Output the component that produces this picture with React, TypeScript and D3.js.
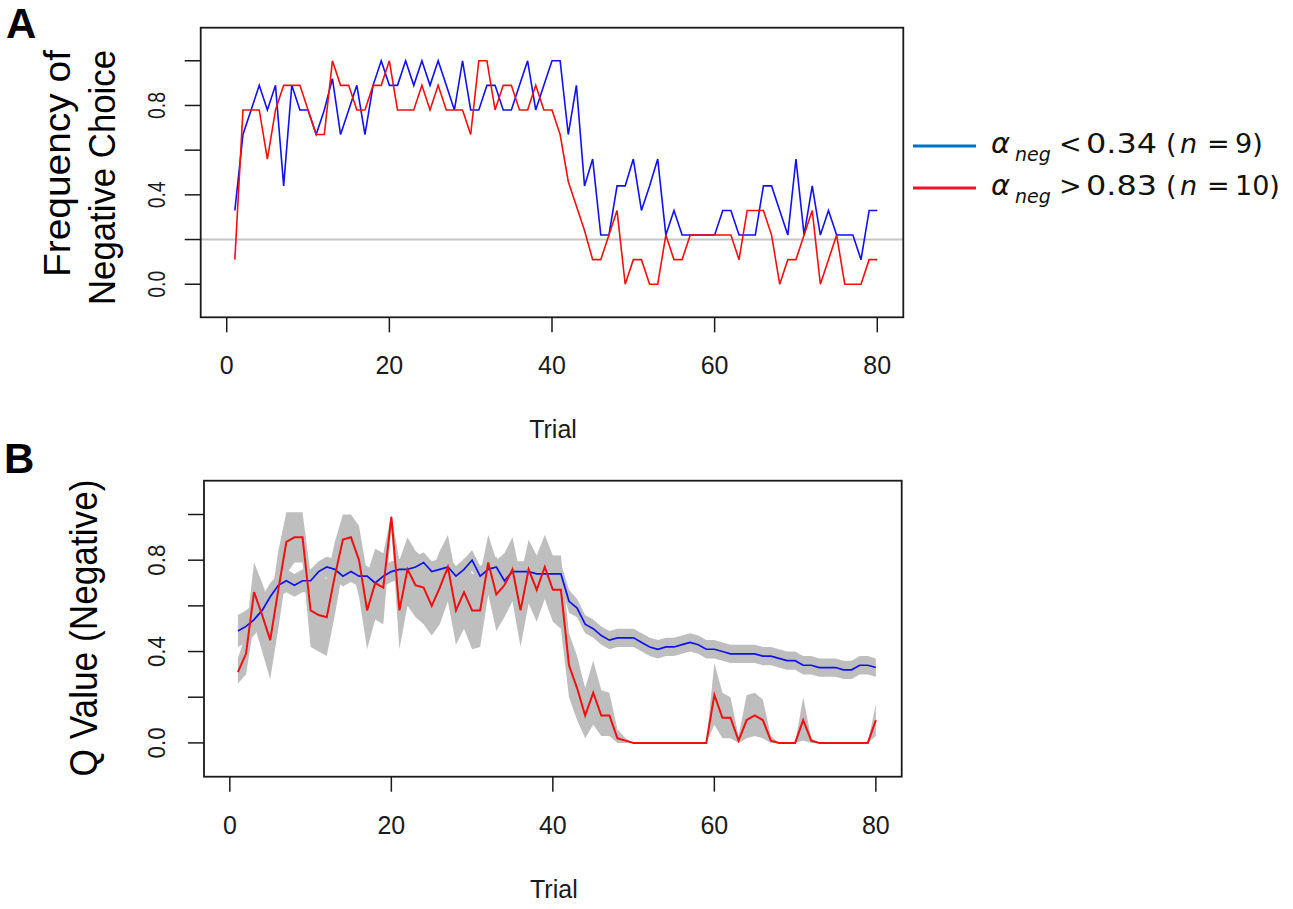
import * as d3 from 'd3';

// Panel A: frequency of negative choice per trial (1..80)
const blueFreq = [
  0.33, 0.67, 0.78, 0.89, 0.78, 0.89, 0.44, 0.89, 0.78, 0.78,
  0.67, 0.78, 0.92, 0.67, 0.78, 0.89, 0.67, 0.89, 1.0, 0.89,
  0.89, 1.0, 0.89, 1.0, 0.89, 1.0, 0.89, 0.78, 1.0, 0.78,
  0.78, 0.89, 0.89, 0.78, 0.78, 0.89, 1.0, 0.78, 0.89, 1.0,
  1.0, 0.67, 0.89, 0.44, 0.56, 0.22, 0.22, 0.44, 0.44, 0.56,
  0.33, 0.44, 0.56, 0.22, 0.33, 0.22, 0.22, 0.22, 0.22, 0.22,
  0.33, 0.33, 0.22, 0.22, 0.22, 0.44, 0.44, 0.33, 0.22, 0.56,
  0.22, 0.44, 0.22, 0.33, 0.22, 0.22, 0.22, 0.11, 0.33, 0.33
];
const redFreq = [
  0.11, 0.78, 0.78, 0.78, 0.56, 0.78, 0.89, 0.89, 0.89, 0.78,
  0.67, 0.67, 1.0, 0.89, 0.89, 0.78, 0.78, 0.89, 0.89, 1.0,
  0.78, 0.78, 0.78, 0.89, 0.78, 0.89, 0.78, 0.78, 0.78, 0.67,
  1.0, 1.0, 0.78, 0.89, 0.89, 0.78, 0.78, 0.89, 0.78, 0.78,
  0.67, 0.46, 0.35, 0.24, 0.11, 0.11, 0.22, 0.33, 0.0, 0.11,
  0.11, 0.0, 0.0, 0.22, 0.11, 0.11, 0.22, 0.22, 0.22, 0.22,
  0.22, 0.22, 0.11, 0.33, 0.33, 0.33, 0.22, 0.0, 0.11, 0.11,
  0.22, 0.33, 0.0, 0.11, 0.22, 0.0, 0.0, 0.0, 0.11, 0.11
];

// Panel B: Q value (negative), mean and grey band
const blueQ = [
  0.49, 0.51, 0.54, 0.58, 0.64, 0.69, 0.71, 0.69, 0.71, 0.71,
  0.75, 0.77, 0.76, 0.73, 0.75, 0.73, 0.73, 0.70, 0.73, 0.75,
  0.76, 0.76, 0.77, 0.79, 0.75, 0.76, 0.77, 0.73, 0.76, 0.80,
  0.73, 0.76, 0.77, 0.71, 0.75, 0.75, 0.75, 0.74, 0.74, 0.74,
  0.74, 0.62, 0.59, 0.52, 0.50, 0.47, 0.45, 0.46, 0.46, 0.46,
  0.44, 0.42, 0.41, 0.42, 0.42, 0.43, 0.44, 0.43, 0.41, 0.41,
  0.40, 0.39, 0.39, 0.39, 0.39, 0.38, 0.38, 0.37, 0.36, 0.36,
  0.34, 0.34, 0.33, 0.33, 0.33, 0.32, 0.32, 0.34, 0.34, 0.33
];
const blueSe = [
  0.07, 0.07, 0.07, 0.06, 0.06, 0.05, 0.05, 0.05, 0.05, 0.05,
  0.045, 0.045, 0.045, 0.045, 0.045, 0.045, 0.045, 0.045, 0.045, 0.045,
  0.045, 0.045, 0.045, 0.045, 0.045, 0.045, 0.045, 0.045, 0.045, 0.045,
  0.045, 0.045, 0.045, 0.045, 0.045, 0.045, 0.045, 0.045, 0.045, 0.045,
  0.045, 0.05, 0.04, 0.04, 0.04, 0.04, 0.04, 0.04, 0.04, 0.04,
  0.04, 0.04, 0.04, 0.04, 0.04, 0.04, 0.04, 0.04, 0.04, 0.04,
  0.04, 0.04, 0.04, 0.04, 0.04, 0.04, 0.04, 0.04, 0.04, 0.04,
  0.04, 0.04, 0.04, 0.04, 0.04, 0.04, 0.04, 0.04, 0.04, 0.04
];
const redQ = [
  0.31, 0.39, 0.66, 0.56, 0.45, 0.67, 0.88, 0.90, 0.90, 0.58,
  0.56, 0.55, 0.73, 0.89, 0.90, 0.80, 0.58, 0.70, 0.68, 0.99,
  0.58, 0.76, 0.69, 0.68, 0.60, 0.68, 0.77, 0.58, 0.66, 0.58,
  0.58, 0.79, 0.65, 0.69, 0.76, 0.58, 0.76, 0.67, 0.77, 0.67,
  0.67, 0.34, 0.24, 0.12, 0.22, 0.12, 0.12, 0.02, 0.01, 0.0,
  0.0, 0.0, 0.0, 0.0, 0.0, 0.0, 0.0, 0.0, 0.0, 0.21,
  0.11, 0.11, 0.01, 0.10, 0.12, 0.10, 0.01, 0.0, 0.0, 0.0,
  0.10, 0.01, 0.0, 0.0, 0.0, 0.0, 0.0, 0.0, 0.0, 0.10
];
const redLo = [
  0.26, 0.30, 0.52, 0.40, 0.28, 0.50, 0.74, 0.79, 0.79, 0.42,
  0.40, 0.38, 0.56, 0.76, 0.78, 0.64, 0.41, 0.54, 0.52, 0.94,
  0.41, 0.60, 0.55, 0.52, 0.47, 0.52, 0.62, 0.43, 0.50, 0.41,
  0.42, 0.65, 0.49, 0.55, 0.62, 0.42, 0.61, 0.53, 0.63, 0.53,
  0.50, 0.20, 0.10, 0.02, 0.08, 0.03, 0.03, 0.0, 0.0, 0.0,
  0.0, 0.0, 0.0, 0.0, 0.0, 0.0, 0.0, 0.0, 0.0, 0.08,
  0.02, 0.02, 0.0, 0.02, 0.03, 0.02, 0.0, 0.0, 0.0, 0.0,
  0.01, 0.0, 0.0, 0.0, 0.0, 0.0, 0.0, 0.0, 0.0, 0.03
];
const redHi = [
  0.37, 0.48, 0.79, 0.70, 0.60, 0.84, 1.01, 1.01, 1.01, 0.74,
  0.72, 0.72, 0.88, 1.0, 1.0, 0.95, 0.74, 0.85, 0.83, 1.0,
  0.80, 0.90, 0.84, 0.81, 0.75, 0.84, 0.91, 0.73, 0.81, 0.74,
  0.74, 0.91, 0.80, 0.83, 0.90, 0.73, 0.89, 0.82, 0.91, 0.82,
  0.82, 0.48, 0.38, 0.24, 0.36, 0.23, 0.22, 0.06, 0.02, 0.0,
  0.0, 0.0, 0.0, 0.0, 0.0, 0.0, 0.0, 0.0, 0.0, 0.35,
  0.22, 0.20, 0.03, 0.21, 0.22, 0.19, 0.03, 0.0, 0.0, 0.0,
  0.20, 0.02, 0.0, 0.0, 0.0, 0.0, 0.0, 0.0, 0.0, 0.17
];

const xTicks = [0, 20, 40, 60, 80];
const yTicks = [0, 0.2, 0.4, 0.6, 0.8, 1.0];
const yTickLabels = ['0.0', '', '0.4', '', '0.8', ''];
const chanceLevel = 0.2;

const legendItems = [
  { sign: '<', threshold: '0.34', n: '9)', color: '#0070c0' },
  { sign: '>', threshold: '0.83', n: '10)', color: '#f01428' }
];

const BLUE = '#1010f0';
const RED = '#f01010';
const GREY = '#bebebe';
const INK = '#1a1a1a';
const FONT = "'Liberation Sans', Arial, sans-serif";

const trials = blueFreq.map((_, i) => i + 1);

interface Box { left: number; right: number; top: number; bottom: number; }

function Axes({ box, x, y, labelX, labelLen }: {
  box: Box;
  x: d3.ScaleLinear<number, number>;
  y: d3.ScaleLinear<number, number>;
  labelX: number;
  labelLen: number;
}) {
  return (
    <g>
      <rect x={box.left} y={box.top} width={box.right - box.left} height={box.bottom - box.top}
        fill="none" stroke={INK} strokeWidth={1.8} />
      {xTicks.map(t => (
        <g key={'x' + t}>
          <line x1={x(t)} x2={x(t)} y1={box.bottom} y2={box.bottom + 15} stroke={INK} strokeWidth={1.5} />
          <text x={x(t)} y={box.bottom + 57} textAnchor="middle" fontSize={25} fill={INK}>{t}</text>
        </g>
      ))}
      <text x={(box.left + box.right) / 2 + 1} y={box.bottom + 121} textAnchor="middle" fontSize={25} fill={INK}>Trial</text>
      {yTicks.map((t, i) => (
        <g key={'y' + t}>
          <line x1={box.left - 16} x2={box.left} y1={y(t)} y2={y(t)} stroke={INK} strokeWidth={1.5} />
          {yTickLabels[i] && (
            <text transform={`translate(${labelX},${y(t)}) rotate(-90)`} textAnchor="middle" fontSize={24}
              fill={INK} textLength={labelLen} lengthAdjust="spacingAndGlyphs">{yTickLabels[i]}</text>
          )}
        </g>
      ))}
    </g>
  );
}

export default function App() {
  const boxA: Box = { left: 200.7, right: 903.3, top: 27.7, bottom: 317.3 };
  const boxB: Box = { left: 204, right: 901.7, top: 480.7, bottom: 776.7 };
  const xDomain: [number, number] = [-3.2, 83.2];
  const yDomain: [number, number] = [-0.148, 1.148];

  const xA = d3.scaleLinear().domain(xDomain).range([boxA.left, boxA.right]);
  const yA = d3.scaleLinear().domain(yDomain).range([boxA.bottom, boxA.top]);
  const xB = d3.scaleLinear().domain(xDomain).range([boxB.left, boxB.right]);
  const yB = d3.scaleLinear().domain(yDomain).range([boxB.bottom, boxB.top]);

  const lineA = (vals: number[]) =>
    d3.line<number>().x((_, i) => xA(trials[i])).y(v => yA(v))(vals) || '';
  const lineB = (vals: number[]) =>
    d3.line<number>().x((_, i) => xB(trials[i])).y(v => yB(v))(vals) || '';
  const band = (lo: number[], hi: number[]) =>
    d3.area<number>().x(t => xB(t)).y0((_, i) => yB(lo[i])).y1((_, i) => yB(hi[i]))(trials) || '';

  const blueLo = blueQ.map((v, i) => v - blueSe[i]);
  const blueHi = blueQ.map((v, i) => v + blueSe[i]);

  return (
    <div style={{ position: 'absolute', left: 0, top: 0 }}>
      <svg width={1293} height={909} fontFamily={FONT} style={{ display: 'block', background: '#fff' }}>
        {/* Panel A */}
        <text x={6} y={38} fontSize={42} fontWeight="bold" fill="#000">A</text>
        <line x1={boxA.left} x2={boxA.right} y1={yA(chanceLevel)} y2={yA(chanceLevel)} stroke="#c4c4c4" strokeWidth={2} />
        <path d={lineA(blueFreq)} fill="none" stroke={BLUE} strokeWidth={1.6} />
        <path d={lineA(redFreq)} fill="none" stroke={RED} strokeWidth={1.6} />
        <Axes box={boxA} x={xA} y={yA} labelX={165} labelLen={27} />
        <text transform="translate(70,50) rotate(-90)" textAnchor="end" fontSize={36} fill="#000"
          textLength={227} lengthAdjust="spacingAndGlyphs">Frequency of</text>
        <text transform="translate(115,50) rotate(-90)" textAnchor="end" fontSize={36} fill="#000"
          textLength={255} lengthAdjust="spacingAndGlyphs">Negative Choice</text>

        {/* Legend */}
        {legendItems.map((item, i) => {
          const base = 153 + i * 42;
          return (
            <g key={item.n} fontFamily="'DejaVu Sans', sans-serif" fill="#111">
              <line x1={913} x2={976} y1={base - 7} y2={base - 7} stroke={item.color} strokeWidth={3} />
              <text y={base} fontSize={27}>
                <tspan x={991} fontStyle="italic" fontSize={29}>α</tspan>
                <tspan x={1015} dy={8} fontSize={19} fontStyle="italic">neg</tspan>
                <tspan x={1059} dy={-8}>{item.sign}</tspan>
                <tspan x={1086} textLength={71} lengthAdjust="spacingAndGlyphs">{item.threshold}</tspan>
                <tspan x={1166}>(</tspan>
                <tspan x={1180} fontStyle="italic">n</tspan>
                <tspan x={1207}>=</tspan>
                <tspan x={1235}>{item.n}</tspan>
              </text>
            </g>
          );
        })}

        {/* Panel B */}
        <text x={4} y={473} fontSize={42} fontWeight="bold" fill="#000">B</text>
        <path d={band(blueLo, blueHi)} fill={GREY} stroke="none" />
        <path d={band(redLo, redHi)} fill={GREY} stroke="none" />
        <path d={lineB(blueQ)} fill="none" stroke={BLUE} strokeWidth={1.7} />
        <path d={lineB(redQ)} fill="none" stroke={RED} strokeWidth={2} />
        <Axes box={boxB} x={xB} y={yB} labelX={165} labelLen={31} />
        <text transform="translate(97,628) rotate(-90)" textAnchor="middle" fontSize={38} fill="#000"
          textLength={297} lengthAdjust="spacingAndGlyphs">Q Value (Negative)</text>
      </svg>
    </div>
  );
}
